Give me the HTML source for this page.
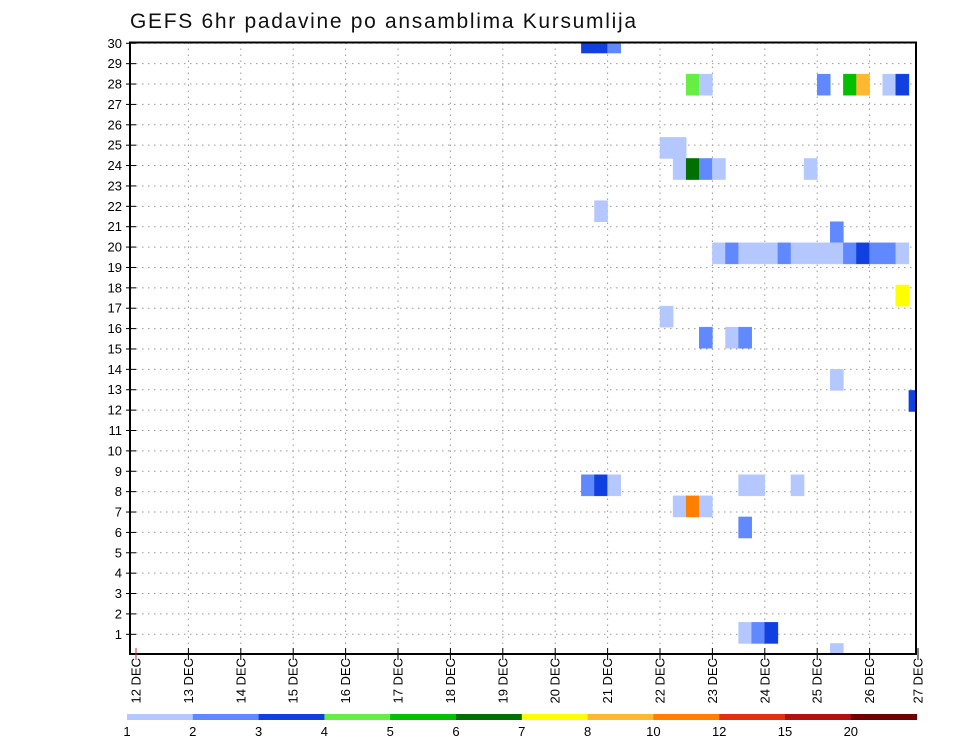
<!DOCTYPE html>
<html><head><meta charset="utf-8"><style>
html,body{margin:0;padding:0;background:#fff;width:960px;height:742px;overflow:hidden}
svg{display:block;font-family:"Liberation Sans",sans-serif}
</style></head><body>
<svg id="chart" width="960" height="742" viewBox="0 0 960 742" xmlns="http://www.w3.org/2000/svg">
<text x="130" y="28" font-size="21" textLength="506" fill="#111">GEFS 6hr padavine po ansamblima Kursumlija</text>
<g id="grid"></g>
<g id="cells"></g>
<rect x="130" y="42.5" width="786" height="611.5" fill="none" stroke="#000" stroke-width="2"/>
<g id="axes"></g>
<g id="legend"></g>
</svg>
<script>
// ---- data ----
const dayLabels = ["12 DEC","13 DEC","14 DEC","15 DEC","16 DEC","17 DEC","18 DEC","19 DEC","20 DEC","21 DEC","22 DEC","23 DEC","24 DEC","25 DEC","26 DEC","27 DEC"];
const memberLabels = [1,2,3,4,5,6,7,8,9,10,11,12,13,14,15,16,17,18,19,20,21,22,23,24,25,26,27,28,29,30];
const legendLabels = ["1","2","3","4","5","6","7","8","10","12","15","20"];
const legendColors = ["#b4c8ff","#6088ff","#1040e0","#66ee44","#00c000","#007000","#ffff00","#ffb830","#ff8000","#e03010","#b01010","#700000"];
// cells: 6-hour step index (from 12 DEC 00z), member row index, colour class (index into legendColors)
const cellStep   = [34,35,36, 42,43,52,54,55,57,58, 40,41, 41,42,43,44,51, 35, 53, 44,45,46,47,48,49,50,51,52,53,54,55,56,57,58, 58, 40, 43,45,46, 53, 59, 34,35,36,46,47,50, 41,42,43, 46, 46,47,48, 53];
const cellMember = [29,29,29, 27,27,27,27,27,27,27, 24,24, 23,23,23,23,23, 21, 20, 19,19,19,19,19,19,19,19,19,19,19,19,19,19,19, 17, 16, 15,15,15, 13, 12, 8,8,8,8,8,8, 7,7,7, 6, 1,1,1, 0];
const cellClass  = [2,2,1, 3,0,1,4,7,0,2, 0,0, 0,5,1,0,0, 0, 1, 0,1,0,0,0,1,0,0,0,0,1,2,1,1,0, 6, 0, 1,0,1, 0, 2, 1,2,0,0,0,0, 0,8,0, 1, 0,1,2, 0];

// ---- scales ----
const NS="http://www.w3.org/2000/svg";
const X0=136, DAY=52.4, L=130, R=916, T=42.5, B=654;
function xDay(d){return X0+d*DAY;}
function xStep(s){return X0+s*DAY/4;}
function yMember(m){return B-m*(B-T)/29;}
function yLabel(k){return 634.3-(k-1)*20.38;}
function mk(tag,attrs,parent){const e=document.createElementNS(NS,tag);for(const k in attrs)e.setAttribute(k,attrs[k]);parent.appendChild(e);return e;}

const grid=document.getElementById('grid');
memberLabels.forEach(k=>{
  const y=yLabel(k);
  const l=mk('line',{x1:L,x2:R,y1:y,y2:y,stroke:'#999','stroke-width':1,'stroke-dasharray':'1.5 4.5'},grid);
  
  
});
dayLabels.forEach((lab,i)=>{
  if(i===0||i===dayLabels.length-1)return;
  const x=xDay(i);
  const l=mk('line',{x1:x,x2:x,y1:T,y2:B,stroke:'#999','stroke-width':1,'stroke-dasharray':'1.5 4.5'},grid);
  
  
});

const cells=document.getElementById('cells');
const clip=mk('clipPath',{id:'plotclip'},cells);
mk('rect',{x:L,y:T,width:R-L,height:B-T},clip);
cells.setAttribute('clip-path','url(#plotclip)');
const rowH=(B-T)/29, colW=DAY/4;
for(let i=0;i<cellStep.length;i++){
  const x=xStep(cellStep[i]), y=yMember(cellMember[i])-rowH/2;
  const r=mk('rect',{x:x,y:y,width:colW,height:rowH,fill:legendColors[cellClass[i]],stroke:legendColors[cellClass[i]],'stroke-width':0.5},cells);
  
  
}

const axes=document.getElementById('axes');
memberLabels.forEach(k=>{
  const y=yLabel(k);
  mk('line',{x1:126,x2:136,y1:y,y2:y,stroke:'#000','stroke-width':1},axes);
  const t=mk('text',{x:122,y:y+4.5,'font-size':13,'text-anchor':'end',fill:'#000'},axes);
  t.textContent=k;
  
  
});
dayLabels.forEach((lab,i)=>{
  const x=Math.min(xDay(i),918);
  mk('line',{x1:x,x2:x,y1:B-6,y2:B+6,stroke:i===0?'#c33':'#000','stroke-width':1},axes);
  const t=mk('text',{x:0,y:0,'font-size':13,'text-anchor':'end',fill:'#000',transform:`translate(${x+4.5},658) rotate(-90)`},axes);
  t.textContent=lab;
  
  
});

const leg=document.getElementById('legend');
const LX=127, LW=65.8;
legendColors.forEach((c,i)=>{
  const r=mk('rect',{x:LX+i*LW,y:714,width:LW+0.5,height:6,fill:c},leg);
  
  
});
legendLabels.forEach((lab,i)=>{
  const t=mk('text',{x:LX+i*LW,y:736,'font-size':13,'text-anchor':'middle',fill:'#000'},leg);
  t.textContent=lab;
  
  
});
</script>
</body></html>
